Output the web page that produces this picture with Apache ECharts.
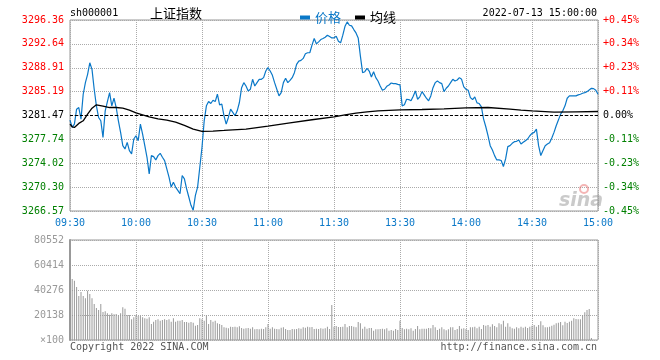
<!DOCTYPE html>
<html>
<head>
<meta charset="utf-8">
<script src="https://cdn.jsdelivr.net/npm/echarts@6/dist/echarts.min.js"></script>
<style>
html,body{margin:0;padding:0;background:#fff;}
#c{width:660px;height:360px;}
</style>
</head>
<body>
<div id="c"></div>
<script>
// ---------- data ----------
const PREV_CLOSE = 3281.47;
const PRICE_MIN = 3266.57;
const PRICE_MAX = 3296.36;
const VOL_MAX = 80552;

const priceTicks = ['3266.57','3270.30','3274.02','3277.74','3281.47','3285.19','3288.91','3292.64','3296.36'];
const pctTicks = ['-0.45%','-0.34%','-0.23%','-0.11%','0.00%','+0.11%','+0.23%','+0.34%','+0.45%'];
const volTicks = ['\u00d7100','20138','40276','60414','80552'];

// minute categories 09:30-11:30, 13:01-15:00
const times = [];
function pad(n){return (n<10?'0':'')+n;}
for (let m = 9*60+30; m <= 11*60+30; m++) times.push(pad(Math.floor(m/60))+':'+pad(m%60));
for (let m = 13*60+1; m <= 15*60; m++) times.push(pad(Math.floor(m/60))+':'+pad(m%60));

const price = [
3280.75,3279.61,3280.13,3282.45,3282.71,3280.90,3284.78,3286.59,3287.88,3289.69,
3288.66,3285.56,3282.97,3281.16,3280.64,3278.06,3282.19,3283.64,3285.04,3282.97,
3284.16,3282.71,3280.64,3278.83,3276.76,3276.25,3277.28,3275.99,3275.47,3277.80,
3278.31,3277.54,3280.13,3278.57,3276.76,3274.95,3272.37,3275.21,3275.06,3274.54,
3275.21,3275.57,3274.95,3274.44,3273.14,3271.85,3270.30,3271.07,3270.30,3269.78,
3269.26,3272.11,3271.59,3270.04,3268.75,3267.45,3266.70,3269.01,3270.30,3273.40,
3276.51,
3280.64,3282.97,3283.64,3283.33,3283.85,3283.64,3284.78,3283.13,3283.23,3281.42,
3280.13,3281.16,3282.45,3281.94,3281.42,3282.19,3283.49,3285.81,3286.59,3286.07,
3285.30,3285.56,3287.11,3286.07,3286.59,3287.11,3287.11,3287.37,3288.40,3288.92,
3288.40,3287.73,3286.59,3285.56,3284.52,3285.04,3286.59,3287.26,3286.59,3286.95,
3287.37,3288.14,3289.44,3289.95,3290.06,3290.37,3291.09,3291.25,3291.25,3292.44,
3293.47,3292.64,3292.95,3293.31,3293.47,3293.68,3293.99,3293.78,3293.57,3293.57,
3293.83,3293.06,3292.80,3293.99,3295.38,3296.06,3295.54,3295.44,3294.87,3294.35,
3293.57,3290.73,3288.14,3288.30,3288.81,3288.40,3287.47,3288.30,3287.37,3286.85,
3286.07,3285.40,3285.56,3286.02,3286.23,3286.54,3286.44,3286.44,3286.33,3286.23,
3282.97,3283.13,3284.00,3283.95,3283.75,3284.47,3285.30,3284.00,3284.37,3285.19,
3284.68,3284.16,3283.75,3284.52,3285.81,3286.59,3286.85,3286.59,3286.44,3285.19,
3285.71,3286.07,3286.59,3287.11,3286.85,3287.00,3287.37,3287.11,3285.92,3285.56,
3285.40,3284.26,3283.95,3284.37,3283.44,3283.33,3282.82,3280.90,3279.71,3278.31,
3276.76,3276.09,3275.21,3274.54,3274.54,3274.44,3273.51,3274.69,3276.61,3276.76,
3277.13,3277.38,3277.44,3277.64,3277.02,3277.28,3277.54,3277.80,3278.31,3278.68,
3278.83,3279.35,3276.76,3275.21,3275.99,3276.76,3277.02,3277.23,3277.95,3278.83,
3279.87,3280.75,3281.68,3282.19,3282.97,3284.16,3284.52,3284.52,3284.52,3284.52,
3284.68,3284.78,3284.94,3285.04,3285.19,3285.45,3285.71,3285.66,3285.40,3284.78
];

// average line: [minute index, value]
const avgPoints = [
[0,3280.13],[1,3279.71],[2,3279.61],[4,3280.23],[6,3280.64],[8,3281.68],[10,3282.61],[12,3283.13],
[15,3282.92],[18,3282.71],[21,3282.71],[24,3282.61],[27,3282.30],[30,3281.88],[33,3281.57],[36,3281.26],
[40,3280.95],[44,3280.75],[48,3280.44],[52,3279.92],[56,3279.35],[60,3278.99],[65,3279.04],[70,3279.14],
[80,3279.35],[90,3279.82],[100,3280.33],[110,3280.80],[120,3281.26],[125,3281.57],[130,3281.83],[135,3282.04],
[140,3282.19],[150,3282.35],[160,3282.40],[170,3282.50],[180,3282.66],[190,3282.71],[200,3282.45],[205,3282.30],
[210,3282.19],[220,3281.99],[230,3282.04],[240,3282.09]
];

const volume = [
51820,49136,47793,42692,35442,38664,35442,33563,39738,37053,
33563,28998,25776,24165,28998,22554,23091,21480,20406,21480,
20675,20943,19869,21480,26313,25239,20138,20138,16647,18258,
20138,19332,19332,18258,17453,17184,18258,12888,14768,16110,
16647,15573,16110,16647,16110,16647,14768,17453,14768,15573,
15573,16110,14499,14499,13962,14499,13962,11546,12083,17453,
16647,15573,19869,12888,16110,14768,15573,13425,12888,12083,
10203,9935,9398,10740,10472,10740,10203,11009,9666,9129,
9398,9666,9129,10203,8592,8861,8592,9129,8861,10203,
12888,9129,10203,9129,8861,8592,9935,10203,8861,8055,
8055,8861,8592,8861,9398,9129,10203,9935,10740,10203,
10472,8861,9129,8861,9398,9129,9398,10740,
8861,28193,10740,11277,10472,10472,10740,12888,10203,11277,
11277,10740,10203,14499,13425,9129,10740,9129,9666,9666,
7518,8592,8592,8861,9129,8592,9398,7518,8055,7518,
8861,8055,15573,9666,8592,9129,8592,9398,7518,8861,
11277,8592,9129,9129,9129,9666,9398,12083,10203,8055,
9129,10203,8592,7787,8592,10203,10203,8055,8861,11277,
9129,9398,8861,8055,10203,10203,10740,9398,10740,8861,
12083,11546,12083,10740,12620,11277,10203,13425,12620,15573,
10740,13425,10740,9398,9129,10203,9398,10740,9935,10740,
9666,10740,11546,12083,10740,12083,15036,11814,10203,10203,
10740,11546,12351,13425,13962,14499,11814,14768,13694,14768,
15573,17453,16916,16647,16647,20138,22286,24165,24971,
1600,0,0,0
];

// ---------- chart ----------
const BLUE = '#0a78c8';
const RED = '#ff0000';
const GREEN = '#008000';
const MONO = 'DejaVu Sans Mono';
const CJK = 'Noto Sans CJK SC';
const every30 = (i) => i % 30 === 0;
const tickColor = (i) => i > 4 ? RED : (i < 4 ? GREEN : '#000');

const chart = echarts.init(document.getElementById('c'), null, {renderer:'canvas'});
chart.setOption({
  animation:false,
  backgroundColor:'#fff',
  textStyle:{fontFamily:MONO},
  legend:{
    left:295, top:6, itemWidth:10, itemHeight:4, itemGap:14, icon:'rect', selectedMode:false,
    textStyle:{fontFamily:CJK, fontSize:13},
    data:[{name:'价格', textStyle:{color:BLUE}},{name:'均线', textStyle:{color:'#000'}}]
  },
  grid:[
    {left:70, right:62, top:20, height:191, show:true, borderColor:'#999', borderWidth:1, backgroundColor:'#fff'},
    {left:70, right:62, top:240, height:100, show:true, borderColor:'#999', borderWidth:1, backgroundColor:'#fff'}
  ],
  xAxis:[
    {type:'category', gridIndex:0, data:times, boundaryGap:false,
     axisLine:{show:false}, axisTick:{show:false},
     axisLabel:{interval:every30, color:BLUE, fontSize:10, fontFamily:MONO, margin:7},
     splitLine:{show:true, interval:every30, lineStyle:{type:'dotted', color:'#aaa', width:1}}},
    {type:'category', gridIndex:1, data:times, boundaryGap:false,
     axisLine:{show:false}, axisTick:{show:false}, axisLabel:{show:false},
     splitLine:{show:true, interval:every30, lineStyle:{type:'dotted', color:'#aaa', width:1}}}
  ],
  yAxis:[
    {type:'value', gridIndex:0, min:PRICE_MIN, max:PRICE_MAX, show:false, splitLine:{show:false}},
    {type:'value', gridIndex:0, min:0, max:8, interval:1, position:'left',
     axisLine:{show:false}, axisTick:{show:false},
     axisLabel:{showMinLabel:true, showMaxLabel:true, fontSize:10, fontFamily:MONO, margin:6,
       formatter:(v) => priceTicks[v], color:(v) => tickColor(Number(v))},
     splitLine:{show:true, lineStyle:{type:'dotted', color:'#aaa', width:1}}},
    {type:'value', gridIndex:0, min:0, max:8, interval:1, position:'right',
     axisLine:{show:false}, axisTick:{show:false},
     axisLabel:{showMinLabel:true, showMaxLabel:true, fontSize:10, fontFamily:MONO, margin:5,
       formatter:(v) => pctTicks[v], color:(v) => tickColor(Number(v))},
     splitLine:{show:false}},
    {type:'value', gridIndex:1, min:0, max:VOL_MAX, interval:20138, position:'left',
     axisLine:{show:true, lineStyle:{color:'#999', width:2}}, axisTick:{show:false},
     axisLabel:{showMinLabel:true, showMaxLabel:true, fontSize:10, fontFamily:MONO, margin:6, color:'#999',
       formatter:(v, i) => volTicks[Math.round(v/20138)]},
     splitLine:{show:true, lineStyle:{type:'dotted', color:'#aaa', width:1}}}
  ],
  series:[
    {name:'价格', type:'line', xAxisIndex:0, yAxisIndex:0, data:price, symbol:'none', z:3,
     lineStyle:{color:BLUE, width:1.2}, itemStyle:{color:BLUE},
     markLine:{silent:true, symbol:'none', label:{show:false},
       lineStyle:{color:'#000', type:[3,2], width:1}, data:[{yAxis:PREV_CLOSE}]}},
    {name:'均线', type:'line', xAxisIndex:0, yAxisIndex:0, data:avgPoints, symbol:'none', z:4,
     lineStyle:{color:'#000', width:1.3}, itemStyle:{color:'#000'}},
    {name:'成交量', type:'bar', xAxisIndex:1, yAxisIndex:3, data:volume, barWidth:1,
     itemStyle:{color:'#999'}}
  ],
  graphic:[
    {type:'text', x:70, y:13, style:{text:'sh000001', fill:'#000', font:'10px "DejaVu Sans Mono"', textAlign:'left', textVerticalAlign:'middle', align:'left', verticalAlign:'middle'}},
    {type:'text', x:150, y:13, style:{text:'上证指数', fill:'#000', font:'13px "Noto Sans CJK SC"', textAlign:'left', textVerticalAlign:'middle', align:'left', verticalAlign:'middle'}},
    {type:'text', x:597, y:13, style:{text:'2022-07-13 15:00:00', fill:'#000', font:'10px "DejaVu Sans Mono"', textAlign:'right', textVerticalAlign:'middle', align:'right', verticalAlign:'middle'}},
    {type:'text', x:70, y:347, style:{text:'Copyright 2022 SINA.COM', fill:'#555', font:'10px "DejaVu Sans Mono"', textAlign:'left', textVerticalAlign:'middle', align:'left', verticalAlign:'middle'}},
    {type:'text', x:597, y:347, style:{text:'http://finance.sina.com.cn', fill:'#555', font:'10px "DejaVu Sans Mono"', textAlign:'right', textVerticalAlign:'middle', align:'right', verticalAlign:'middle'}},
    {type:'circle', shape:{cx:584, cy:189, r:4}, style:{fill:'none', stroke:'rgba(230,90,90,0.45)', lineWidth:2}, z:1},
    {type:'text', x:581, y:201, style:{text:'sina', fill:'rgba(150,150,150,0.5)', font:'italic bold 19px "DejaVu Sans"', textAlign:'center', textVerticalAlign:'middle', align:'center', verticalAlign:'middle'}, z:1}
  ]
});
</script>
</body>
</html>
